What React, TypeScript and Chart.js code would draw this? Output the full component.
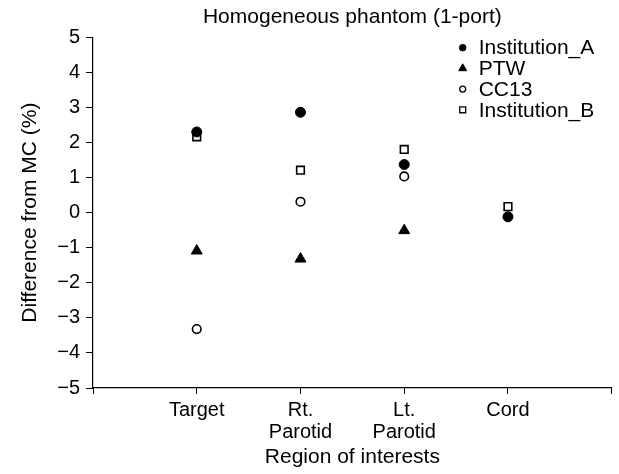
import React, { useEffect, useRef } from 'react';
import { Chart, registerables } from 'chart.js';
import { drawPoint } from 'chart.js/helpers';

Chart.register(...registerables);

const categories: string[][] = [['Target'], ['Rt.', 'Parotid'], ['Lt.', 'Parotid'], ['Cord']];
const categoryPositions = [1, 2, 3, 4];
const institutionA = [2.3, 2.86, 1.37, -0.12];
const ptw = [-1.09, -1.32, -0.51, null];
const cc13 = [-3.32, 0.31, 1.03, null];
const institutionB = [2.16, 1.21, 1.8, 0.17];

const FONT = "'Liberation Sans', Arial, Helvetica, sans-serif";

function toPoints(vals: (number | null)[]) {
  return categoryPositions.map((x, i) => ({ x, y: vals[i] }));
}

const insideLegend = {
  id: 'insideLegend',
  afterDraw(chart: any) {
    const { ctx, chartArea } = chart;
    const x0 = chartArea.right - 149;
    let y = chartArea.top + 10.5;
    ctx.save();
    ctx.font = `21px ${FONT}`;
    ctx.textBaseline = 'middle';
    ctx.textAlign = 'left';
    chart.data.datasets.forEach((ds: any) => {
      ctx.fillStyle = ds.pointBackgroundColor;
      ctx.strokeStyle = ds.pointBorderColor;
      ctx.lineWidth = ds.legendBorderWidth;
      drawPoint(ctx, { pointStyle: ds.pointStyle, radius: ds.legendRadius, rotation: 0, borderWidth: ds.legendBorderWidth }, x0, y);
      ctx.fillStyle = '#000';
      ctx.fillText(ds.label, x0 + 16, y + 1);
      y += 20.7;
    });
    ctx.restore();
  },
};

export default function App() {
  const ref = useRef<HTMLCanvasElement>(null);
  useEffect(() => {
    if (!ref.current) return;
    const common = { showLine: false, pointBorderColor: '#000' };
    const chart = new Chart(ref.current, {
      type: 'scatter',
      data: {
        datasets: [
          { ...common, label: 'Institution_A', data: toPoints(institutionA), pointStyle: 'circle', pointRadius: 5, pointBackgroundColor: '#000', pointBorderWidth: 1, legendRadius: 3.3, legendBorderWidth: 1 } as any,
          { ...common, label: 'PTW', data: toPoints(ptw), pointStyle: 'triangle', pointRadius: 6.3, pointBackgroundColor: '#000', pointBorderWidth: 1, legendRadius: 4.6, legendBorderWidth: 1 } as any,
          { ...common, label: 'CC13', data: toPoints(cc13), pointStyle: 'circle', pointRadius: 4.3, pointBackgroundColor: '#fff', pointBorderWidth: 1.6, legendRadius: 3, legendBorderWidth: 1.3 } as any,
          { ...common, label: 'Institution_B', data: toPoints(institutionB), pointStyle: 'rect', pointRadius: 5.4, pointBackgroundColor: '#fff', pointBorderWidth: 1.6, legendRadius: 4.2, legendBorderWidth: 1.3 } as any,
        ],
      },
      options: {
        responsive: false,
        animation: false,
        layout: { padding: { left: 0, right: 1, top: 0, bottom: 0 } },
        plugins: {
          legend: { display: false },
          tooltip: { enabled: false },
          title: {
            display: true,
            fullSize: false,
            text: 'Homogeneous phantom (1-port)',
            color: '#000',
            font: { family: FONT, size: 21, weight: 'normal', lineHeight: 1.2 },
            padding: { top: 5, bottom: 7 },
          },
        },
        scales: {
          x: {
            type: 'linear',
            min: 0,
            max: 5,
            afterFit: (s: any) => { s.height = 86; },
            border: { display: true, color: '#000', width: 1.2 },
            grid: { drawOnChartArea: false, drawTicks: true, tickLength: 6, color: '#000' },
            ticks: {
              stepSize: 1,
              color: '#000',
              padding: 5,
              maxRotation: 0,
              autoSkip: false,
              font: { family: FONT, size: 20, lineHeight: 1.1 },
              callback: (v: any) => {
                const i = categoryPositions.indexOf(Number(v));
                return i >= 0 ? categories[i] : '';
              },
            },
            title: {
              display: true,
              text: 'Region of interests',
              color: '#000',
              font: { family: FONT, size: 21, lineHeight: 1.2 },
              padding: { top: 0, bottom: 4 },
            },
          },
          y: {
            min: -5,
            max: 5,
            afterFit: (s: any) => { s.width = 93; },
            border: { display: true, color: '#000', width: 1.2 },
            grid: { drawOnChartArea: false, drawTicks: true, tickLength: 7, color: '#000' },
            ticks: {
              stepSize: 1,
              color: '#000',
              padding: 6,
              font: { family: FONT, size: 20 },
              callback: (v: any) => (Number(v) < 0 ? '\u2212' + Math.abs(Number(v)) : String(v)),
            },
            title: {
              display: true,
              text: 'Difference from MC (%)',
              color: '#000',
              font: { family: FONT, size: 21, lineHeight: 1.2 },
              padding: { top: 18, bottom: 0 },
            },
          },
        },
      },
      plugins: [insideLegend],
    });
    return () => chart.destroy();
  }, []);
  return (
    <div style={{ position: 'fixed', left: 0, top: 0, width: 619, height: 474, background: '#fff' }}>
      <canvas ref={ref} width={619} height={474} style={{ width: 619, height: 474, display: 'block' }} />
    </div>
  );
}
